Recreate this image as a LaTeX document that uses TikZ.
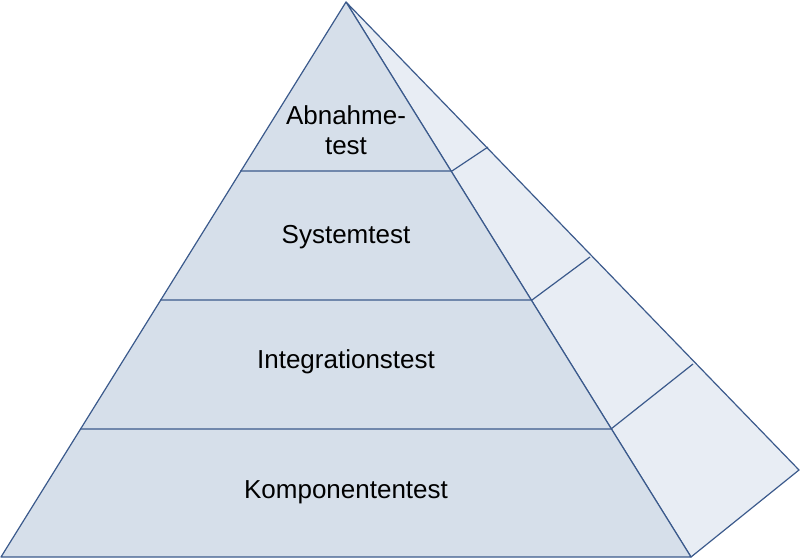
\documentclass[tikz,border=0pt]{standalone}
\usepackage{fontspec}
\setmainfont{Liberation Sans}
\definecolor{edgeblue}{HTML}{3B5A8C}
\definecolor{frontfill}{HTML}{D6DFEA}
\definecolor{sidefill}{HTML}{E8EDF4}

\begin{document}
\begin{tikzpicture}[x=1pt,y=-1pt,line join=round,
  face/.style={draw=edgeblue,line width=1.2pt},
  level label/.style={font=\fontsize{26}{30}\selectfont,align=center}]
\useasboundingbox (0,0) rectangle (800,559);

% pyramid faces
\coordinate (apex) at (346,2);
\coordinate (BL) at (1,557);
\coordinate (BR) at (691,557);
\coordinate (back) at (799,470);
\draw[face,fill=sidefill] (apex) -- (back) -- (BR) -- cycle;
\draw[face,fill=frontfill] (apex) -- (BR) -- (BL) -- cycle;

% levels
\draw[face] (240,171) -- (452,171) -- (488,147);
\draw[face] (160,300) -- (532,300) -- (590,257);
\draw[face] (80,429) -- (611,429) -- (693,364);

\node[level label](A1) at (346,130) {Abnahme-\\test};
\node[level label](S1) at (346,237) {Systemtest};
\node[level label](I1) at (346,362) {Integrationstest};
\node[level label](K1) at (346,492) {Komponententest};
\end{tikzpicture}
\end{document}
